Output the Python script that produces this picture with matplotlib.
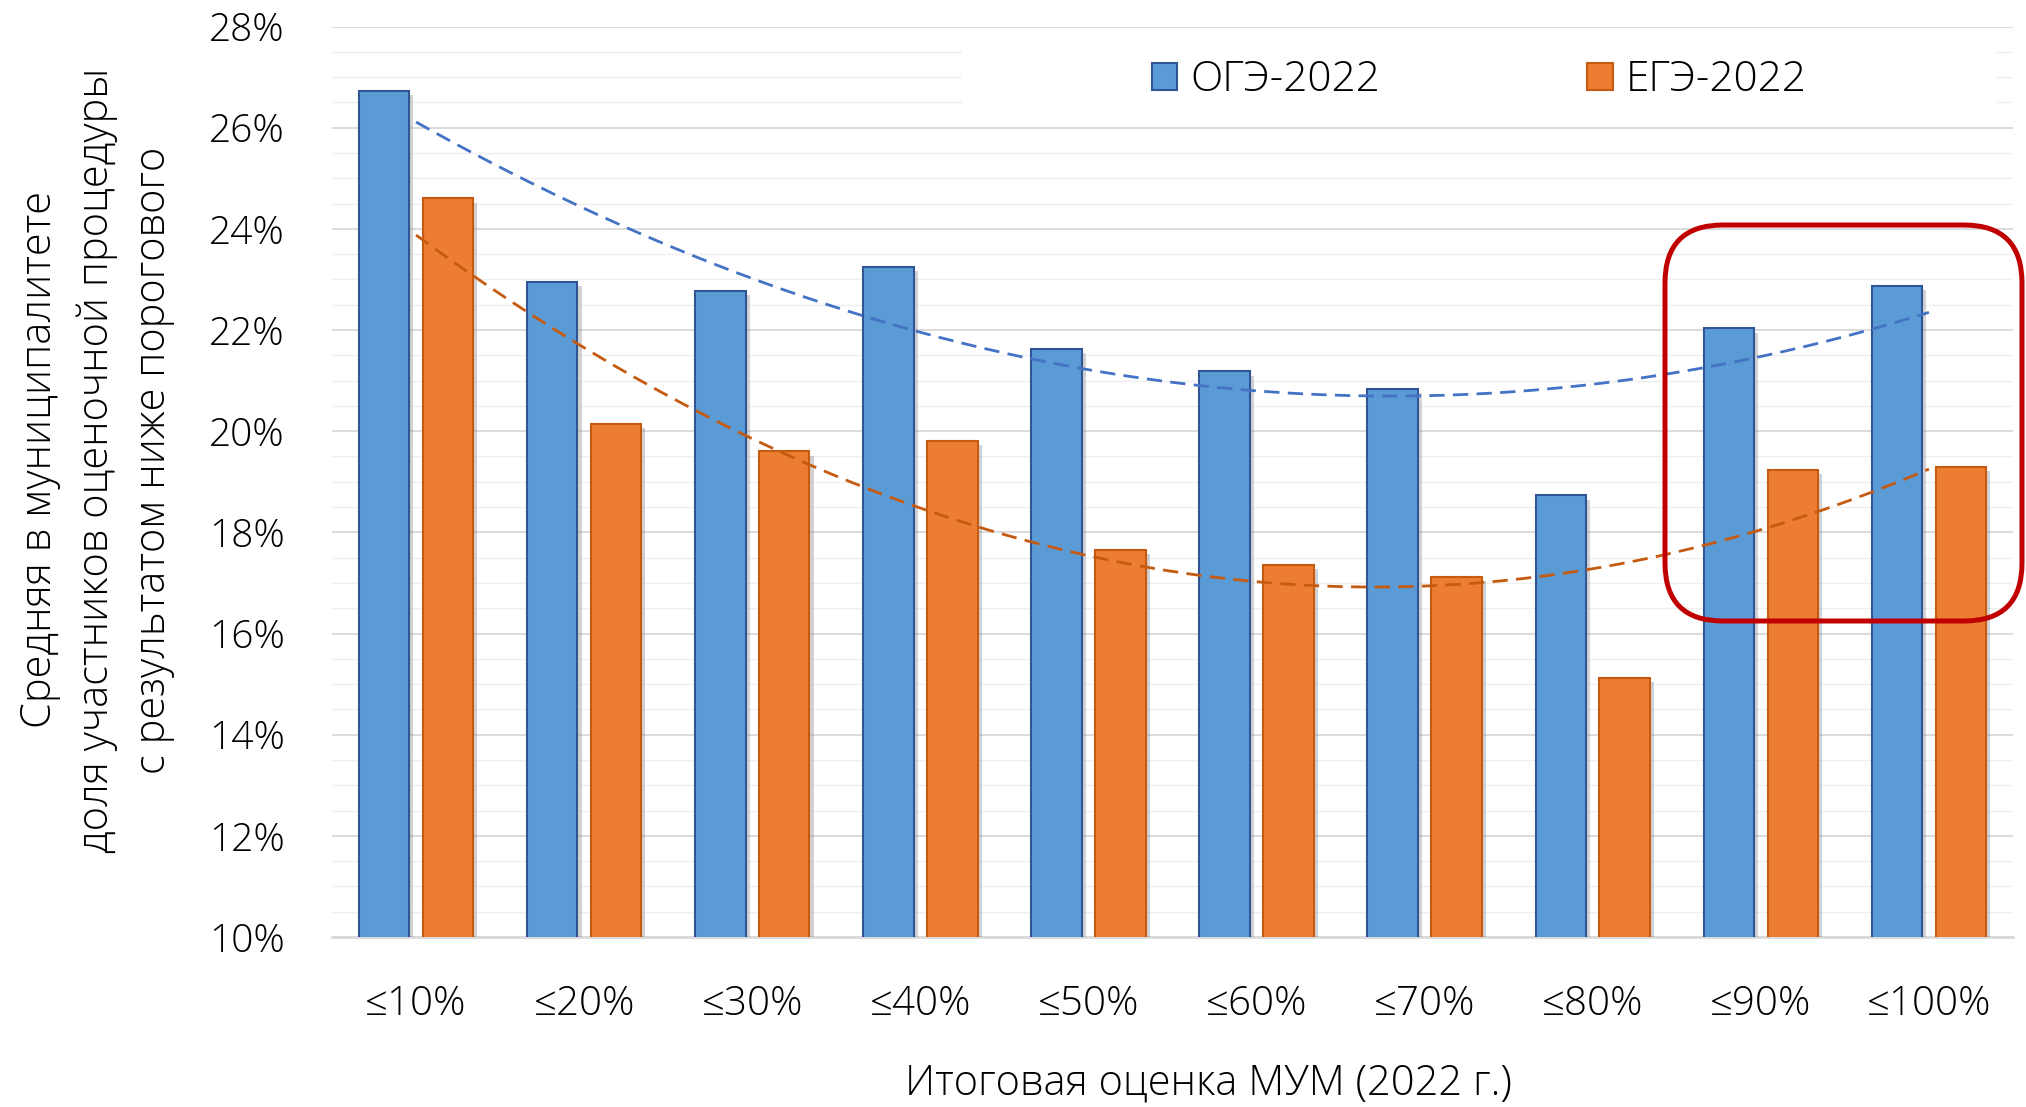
import numpy as np
import matplotlib
matplotlib.use("Agg")
import matplotlib.pyplot as plt
from matplotlib.patches import FancyBboxPatch, Rectangle
from matplotlib.transforms import IdentityTransform
import matplotlib.patheffects as pe

categories = ["≤10%", "≤20%", "≤30%", "≤40%", "≤50%", "≤60%", "≤70%", "≤80%", "≤90%", "≤100%"]
oge_2022 = [26.72, 22.95, 22.77, 23.25, 21.62, 21.18, 20.83, 18.73, 22.03, 22.87]
ege_2022 = [24.60, 20.14, 19.60, 19.81, 17.66, 17.35, 17.12, 15.13, 19.24, 19.29]
series_names = ["ОГЭ-2022", "ЕГЭ-2022"]
y_ticks = [10, 12, 14, 16, 18, 20, 22, 24, 26, 28]

plt.rcParams['font.family'] = ['Open Sans', 'DejaVu Sans']
FW = 'light'

W, H = 2026, 1107
fig = plt.figure(figsize=(W / 100, H / 100), dpi=100)
fig.patch.set_facecolor('white')
ax = fig.add_axes([332 / W, 1 - 937 / H, (2013 - 332) / W, (937 - 26.5) / H])

x = np.arange(len(categories))
bw = 0.30
off = 0.19
shadow = [pe.SimplePatchShadow(offset=(3, -3), shadow_rgbFace='#808080', alpha=0.35), pe.Normal()]
b1 = ax.bar(x - off, oge_2022, bw, color='#5B9BD5', edgecolor='#2F5597', linewidth=1.5,
            zorder=3, label=series_names[0])
b2 = ax.bar(x + off, ege_2022, bw, color='#ED7D31', edgecolor='#C55A11', linewidth=1.5,
            zorder=3, label=series_names[1])
for b in list(b1) + list(b2):
    b.set_path_effects(shadow)

# polynomial (order 2) trendlines, as in the source chart
xt = np.linspace(1, len(categories), 200)
for vals, col in ((oge_2022, '#4472C4'), (ege_2022, '#C55A11')):
    c = np.polyfit(np.arange(1, len(vals) + 1), vals, 2)
    ax.plot(xt - 1, np.polyval(c, xt), color=col, lw=2.0, ls=(0, (5.5, 3)), zorder=4)

ax.set_xlim(-0.5, len(categories) - 0.5)
ax.set_ylim(10, 28)
ax.set_yticks(y_ticks)
ax.set_yticklabels([f"{t}%" for t in y_ticks])
ax.set_yticks(np.arange(10, 28.01, 0.5), minor=True)
ax.set_xticks(x)
ax.set_xticklabels(categories)
ax.grid(axis='y', which='major', color='#D9D9D9', lw=1.3, zorder=0)
ax.grid(axis='y', which='minor', color='#EFEFEF', lw=1.0, zorder=0)
ax.set_axisbelow(True)
for s in ('left', 'right', 'top'):
    ax.spines[s].set_visible(False)
ax.spines['bottom'].set_color('#D9D9D9')
ax.spines['bottom'].set_linewidth(2)
ax.tick_params(axis='both', which='both', length=0)
ax.tick_params(axis='y', pad=34, labelsize=28)
ax.tick_params(axis='x', pad=34, labelsize=29)
for lab in ax.get_xticklabels() + ax.get_yticklabels():
    lab.set_fontweight(FW)
    lab.set_color('#000000')

# white legend area covering gridlines
ax.add_patch(Rectangle((962, H - 114), 1996 - 962, 114 - 32, transform=IdentityTransform(),
                       facecolor='white', edgecolor='none', zorder=2.5, clip_on=False))
leg = ax.legend(loc='center', bbox_to_anchor=((962 + 1996) / 2 / W, 1 - 80 / H),
                bbox_transform=fig.transFigure, ncol=2, frameon=False,
                prop={'size': 30.5, 'weight': FW}, handlelength=0.6, handleheight=0.6,
                handletextpad=0.3, columnspacing=4.9)
leg.set_zorder(6)
for h in leg.legend_handles:
    h.set_path_effects([])

# red highlight box
fig.patches.append(FancyBboxPatch((1665, H - 621), 2022 - 1665, 621 - 225,
                                  boxstyle='round,pad=0,rounding_size=58',
                                  transform=IdentityTransform(), facecolor='none',
                                  edgecolor='#C00000', linewidth=3.6, zorder=10))

fig.text(97 / W, 1 - 460 / H,
         "Средняя в муниципалитете\nдоля участников оценочной процедуры\nс результатом ниже порогового",
         rotation=90, ha='center', va='center', fontsize=30, fontweight=FW, linespacing=1.45,
         multialignment='center')
fig.text(1208 / W, 1 - 1083 / H, "Итоговая оценка МУМ (2022 г.)", ha='center', va='center',
         fontsize=30, fontweight=FW)

fig.savefig('out.png', dpi=100, facecolor='white')
